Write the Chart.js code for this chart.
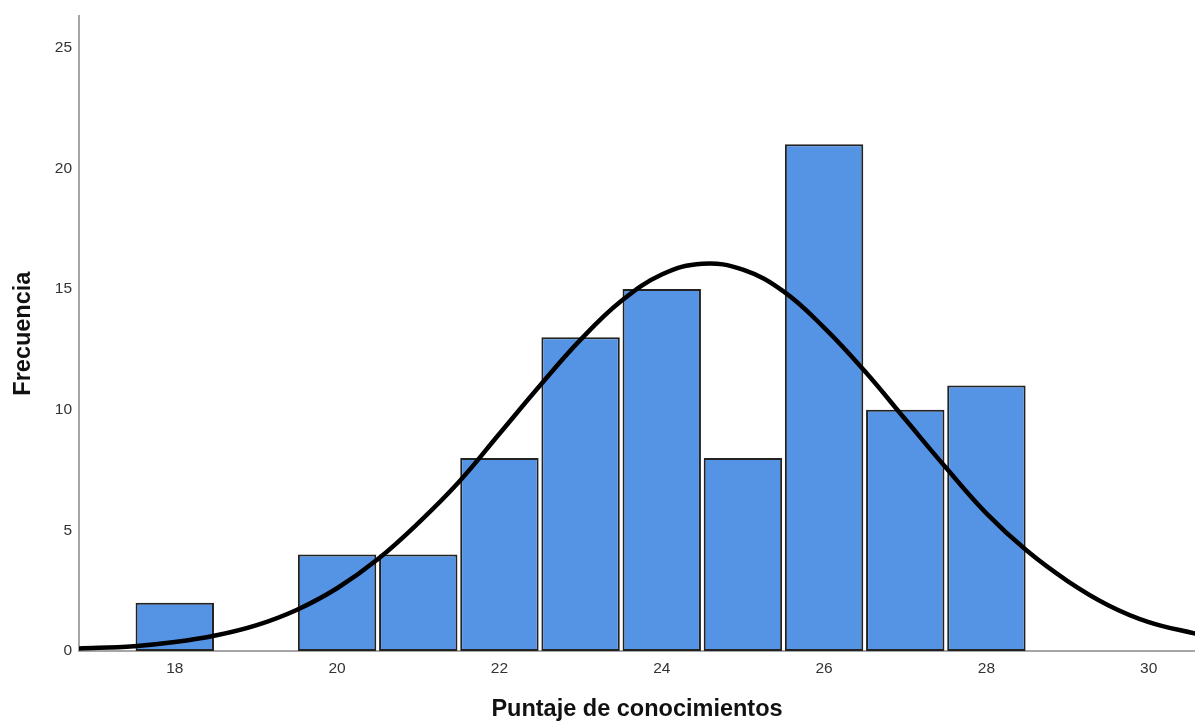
<!DOCTYPE html>
<html>
<head>
<meta charset="utf-8">
<script src="https://cdn.jsdelivr.net/npm/chart.js@4.4.1/dist/chart.umd.min.js"></script>
<style>
  html, body { margin: 0; padding: 0; background: #fff; }
  #wrap { width: 1195px; height: 724px; }
</style>
</head>
<body>
<div id="wrap"><canvas id="hist" width="1195" height="724"></canvas></div>
<script>
// histogram bins (score) and counts
const scores = [18, 20, 21, 22, 23, 24, 25, 26, 27, 28];
const counts = [2, 4, 4, 8, 13, 15, 8, 21, 10, 11];

// normal curve
const curveX = [16.8, 17.5, 18, 18.5, 19, 19.5, 20, 20.5, 21, 21.5, 22, 22.5, 23, 23.5, 24, 24.5, 25, 25.5, 26, 26.5, 27, 27.5, 28, 28.5, 29, 29.5, 30, 30.6];
const curveY = [0.1, 0.2, 0.37, 0.64, 1.06, 1.7, 2.6, 3.8, 5.3, 7.0, 9.0, 11.0, 12.9, 14.5, 15.6, 16.05, 15.8, 14.9, 13.4, 11.6, 9.6, 7.6, 5.7, 4.15, 2.9, 1.9, 1.2, 0.7];

// axis ticks
const xTicks = [18, 20, 22, 24, 26, 28, 30];
const yTicks = [0, 5, 10, 15, 20, 25];

const FONT = "'Liberation Sans', Arial, sans-serif";

new Chart(document.getElementById("hist").getContext("2d"), {
  type: "bar",
  data: {
    datasets: [
      {
        type: "line",
        data: curveX.map((x, i) => ({ x, y: curveY[i] })),
        borderColor: "#000",
        borderWidth: 4.5,
        pointRadius: 0,
        tension: 0.4,
        fill: false,
        order: 0,
      },
      {
        type: "bar",
        data: scores.map((x, i) => ({ x, y: counts[i] })),
        backgroundColor: "#5594e4",
        borderColor: "#222",
        borderWidth: 2,
        borderSkipped: false,
        barPercentage: 0.966,
        categoryPercentage: 1,
        order: 1,
      },
    ],
  },
  options: {
    responsive: false,
    animation: false,
    layout: { padding: { top: 16, right: 0, left: 0, bottom: 0 } },
    plugins: { legend: { display: false }, tooltip: { enabled: false } },
    scales: {
      x: {
        type: "linear",
        offset: false,
        min: 16.82,
        max: 30.57,
        grid: { display: false, drawTicks: false, offset: false },
        border: { color: "#a6a6a6", width: 2 },
        afterBuildTicks: (s) => { s.ticks = xTicks.map((v) => ({ value: v })); },
        ticks: { color: "#333", font: { family: FONT, size: 15.5 }, padding: 8 },
        title: {
          display: true,
          text: "Puntaje de conocimientos",
          color: "#111",
          font: { family: FONT, size: 23.5, weight: "bold" },
          padding: { top: 15, bottom: 0 },
        },
        afterFit: (s) => { s.height = 73; },
      },
      y: {
        min: 0,
        max: 26.3,
        grid: { display: false, drawTicks: false },
        border: { color: "#a6a6a6", width: 2 },
        afterBuildTicks: (s) => { s.ticks = yTicks.map((v) => ({ value: v })); },
        ticks: { color: "#333", font: { family: FONT, size: 15.5 }, padding: 7 },
        title: {
          display: true,
          text: "Frecuencia",
          color: "#111",
          font: { family: FONT, size: 23.5, weight: "bold" },
          padding: { top: 9, bottom: 0 },
        },
        afterFit: (s) => { s.width = 79; },
      },
    },
  },
});
</script>
</body>
</html>
